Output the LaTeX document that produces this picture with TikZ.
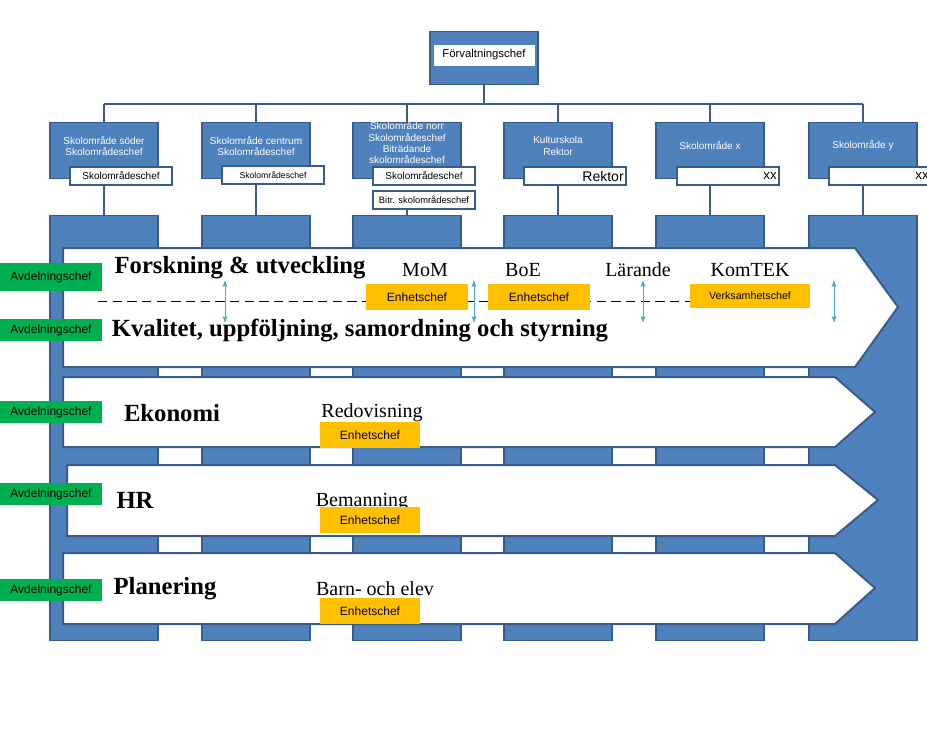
\documentclass[tikz,border=0pt]{standalone}
\usepackage{fontspec}
\setmainfont{Liberation Serif}
\newfontfamily\arial{Liberation Sans}
\usetikzlibrary{positioning}
\usetikzlibrary{arrows}
\definecolor{orgblue}{RGB}{79,129,189}
\definecolor{orgline}{RGB}{56,93,138}
\definecolor{orgorange}{RGB}{255,192,0}
\definecolor{orggreen}{RGB}{0,176,80}
\definecolor{orgarrow}{RGB}{75,172,198}
\tikzset{
	unitbox/.style={fill=orgblue, draw=orgline, line width=0.8pt, inner sep=0pt},
	subbox/.style={fill=white, draw=orgline, line width=1.5pt, inner sep=0pt, font=\arial\fontsize{7.5}{8}\selectfont},
	unittext/.style={text=white, align=center, font=\arial\fontsize{7.5}{8.5}\selectfont},
	chevron/.style={fill=white, draw=orgline, line width=1.5pt},
	chief/.style={fill=orgorange, inner sep=0pt, font=\arial\fontsize{9}{10}\selectfont, text=black},
	avd/.style={fill=orggreen, inner sep=0pt, minimum width=77pt, minimum height=17pt, font=\arial\fontsize{9}{10}\selectfont},
	area/.style={font=\bfseries\fontsize{18.5}{20}\selectfont},
	sect/.style={font=\fontsize{15}{17}\selectfont},
	orgconn/.style={draw=orgline, line width=2pt},
	span/.style={draw=orgarrow, <->, >=stealth', line width=0.6pt},
}
\begin{document}
\begin{tikzpicture}[x=0.75pt, y=-0.75pt]
	\useasboundingbox[fill=white] (0,0) rectangle (927,732);
	% top
	\node[unitbox, minimum width=81pt, minimum height=40pt] (top) at (484,58) {};
	\node[fill=white, draw=white, minimum width=75pt, minimum height=15pt, inner sep=0pt, font=\arial\fontsize{8.5}{9}\selectfont] (toplbl) at (484,55) {Förvaltningschef};
	\coordinate (bar) at (484,104);
	\draw[orgconn] (top.south) -- (bar);
	% columns
	\foreach \n/\cx in {1/104,2/256,3/407,4/558,5/710,6/863} {
		\node[unitbox, minimum width=81pt, minimum height=425*0.75pt, anchor=north] (col\n) at (\cx,215) {};
		\node[unitbox, minimum width=81pt, minimum height=42pt, anchor=north] (unit\n) at (\cx,122) {};
		\draw[orgconn] (bar -| unit\n.north) -- (unit\n.north);
	}
	\draw[orgconn] (bar -| unit1.north) -- (bar -| unit6.north);
	\node[unittext] at (104,146) {Skolområde söder\\Skolområdeschef};
	\node[unittext] at (256,146) {Skolområde centrum\\Skolområdeschef};
	\node[unittext] at (407,143) {Skolområde norr\\Skolområdeschef\\Biträdande\\skolområdeschef};
	\node[unittext] at (558,146) {Kulturskola\\Rektor};
	\node[unittext] at (710,146) {Skolområde x};
	\node[unittext] at (863,146) {Skolområde y};
	% sub boxes
	\node[subbox, minimum width=77pt, minimum height=14pt] (sub1) at (121,176) {Skolområdeschef};
	\node[subbox, minimum width=77pt, minimum height=13pt, font=\arial\fontsize{6.5}{7}\selectfont] (sub2) at (273,175) {Skolområdeschef};
	\node[subbox, minimum width=77pt, minimum height=14pt] (sub3) at (424,176) {Skolområdeschef};
	\node[subbox, minimum width=77pt, minimum height=14pt, font=\arial\fontsize{7}{8}\selectfont] (bitr) at (424,200) {Bitr. skolområdeschef};
	\node[subbox, minimum width=77pt, minimum height=14pt, align=right, text width=73pt, font=\arial\fontsize{10.5}{11}\selectfont] (sub4) at (575,176) {Rektor};
	\node[subbox, minimum width=77pt, minimum height=14pt, align=right, text width=73pt, font=\arial\fontsize{10}{11}\selectfont] (sub5) at (728,176) {xx};
	\node[subbox, minimum width=77pt, minimum height=14pt, align=right, text width=73pt, font=\arial\fontsize{10}{11}\selectfont] (sub6) at (880,176) {xx};
	\foreach \n in {1,2,4,5,6} \draw[orgconn] (unit\n.south |- sub\n.south) -- (col\n.north);
	\draw[orgconn] (unit3.south |- bitr.south) -- (col3.north);
	% chevrons
	\draw[chevron] (63,248) -- (855,248) -- (898,307) -- (855,367) -- (63,367) -- cycle;
	\draw[chevron] (63,377) -- (835,377) -- (875,412) -- (835,447) -- (63,447) -- cycle;
	\draw[chevron] (67,465) -- (835,465) -- (878,500) -- (835,536) -- (67,536) -- cycle;
	\draw[chevron] (63,553) -- (835,553) -- (875,588) -- (835,624) -- (63,624) -- cycle;
	\draw[dashed, dash pattern=on 7pt off 4pt, line width=0.7pt] (98,301) -- (690,301);
	% areas
	\node[area] (fou) at (240,268) {Forskning \& utveckling};
	\node[area] (kval) at (360,331) {Kvalitet, uppföljning, samordning och styrning};
	\node[area] (eko) at (172,413) {Ekonomi};
	\node[area] (hr) at (135,500) {HR};
	\node[area] (plan) at (165,589) {Planering};
	\node[sect] (mom) at (425,270) {MoM};
	\node[sect] (boe) at (523,270) {BoE};
	\node[sect] (lar) at (638,270) {Lärande};
	\node[sect] (komtek) at (750,270) {KomTEK};
	\node[sect] (redo) at (372,413) {Redovisning};
	\node[sect] (beman) at (362,502) {Bemanning};
	\node[sect] (barn) at (375,589) {Barn- och elev};
	% chiefs
	\node[chief, minimum width=76pt, minimum height=19pt] (ech1) at (417,297) {Enhetschef};
	\node[chief, minimum width=76pt, minimum height=19pt] (ech2) at (539,297) {Enhetschef};
	\node[chief, minimum width=90pt, minimum height=18pt, font=\arial\fontsize{8}{9}\selectfont] (vch) at (750,296) {Verksamhetschef};
	\node[chief, minimum width=75pt, minimum height=19pt] (ech3) at (370,435) {Enhetschef};
	\node[chief, minimum width=75pt, minimum height=19pt] (ech4) at (370,520) {Enhetschef};
	\node[chief, minimum width=75pt, minimum height=19pt] (ech5) at (370,611) {Enhetschef};
	\node[avd, minimum height=21pt] (avd1) at (51,277) {Avdelningschef};
	\node[avd] (avd2) at (51,330) {Avdelningschef};
	\node[avd] (avd3) at (51,412) {Avdelningschef};
	\node[avd] (avd4) at (51,494) {Avdelningschef};
	\node[avd] (avd5) at (51,590) {Avdelningschef};
	% spans
	\foreach \x in {225,474,643,834} \draw[span] (\x,281) -- (\x,322);
\end{tikzpicture}
\end{document}
